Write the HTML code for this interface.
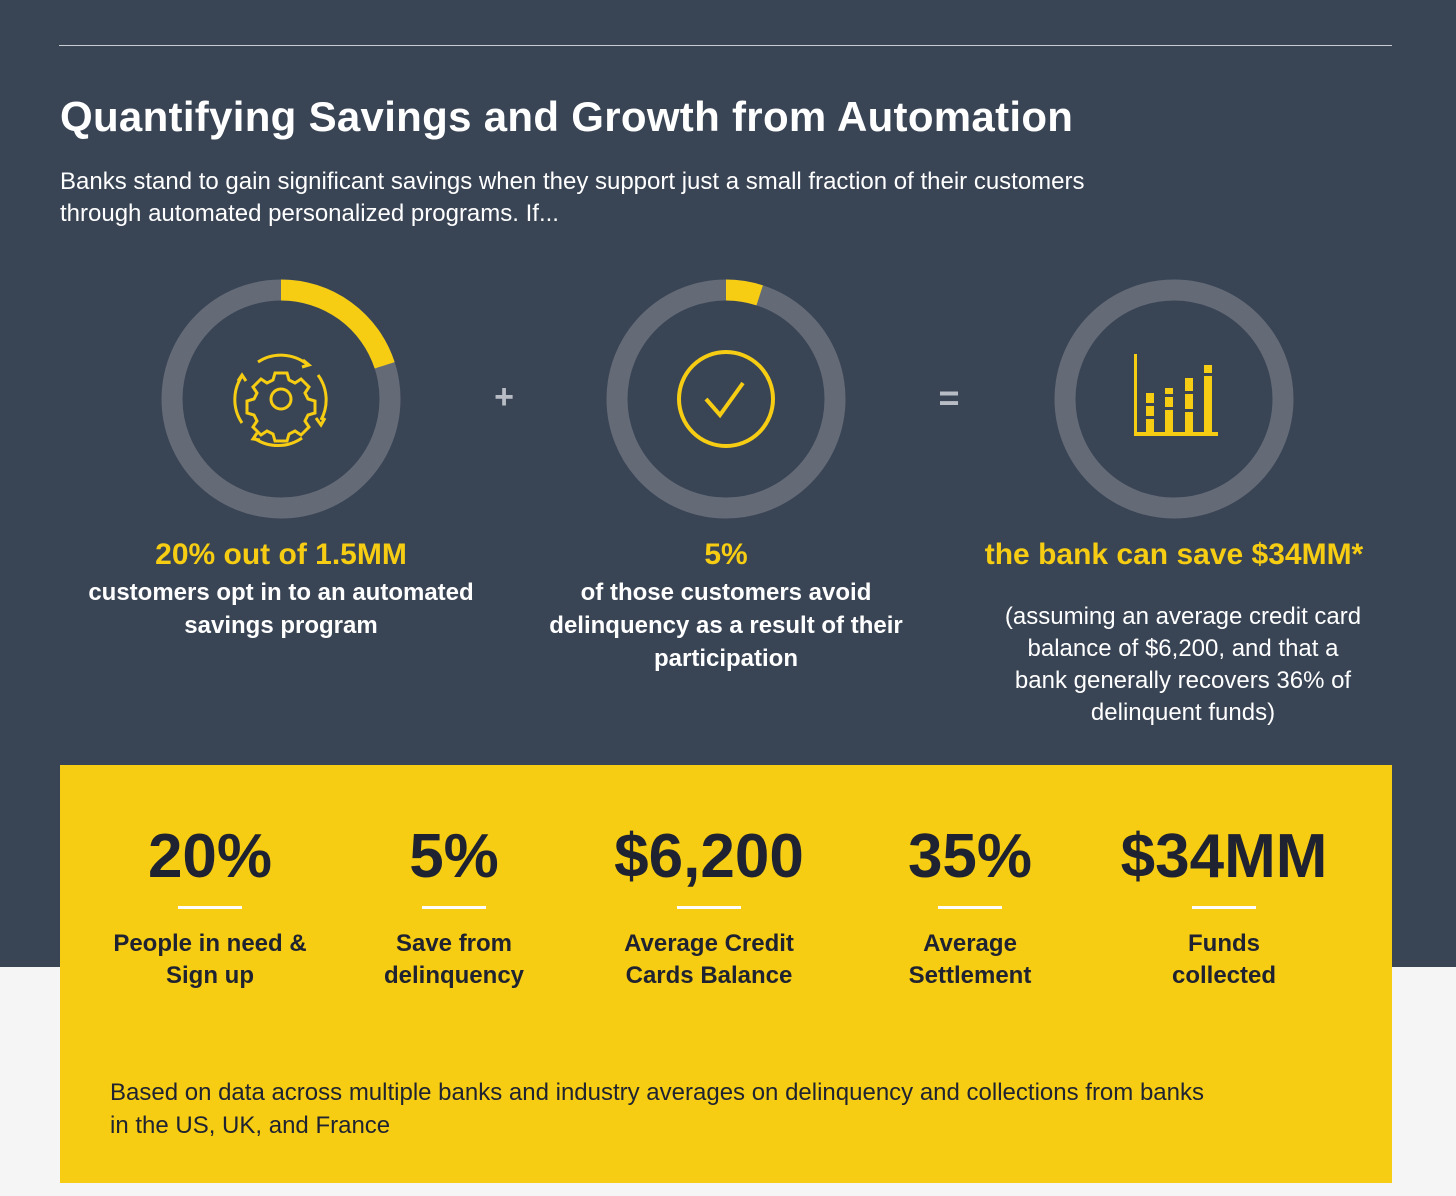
<!DOCTYPE html>
<html><head><meta charset="utf-8"><style>
body{margin:0;width:1456px;height:1196px;background:#f5f5f5;font-family:"Liberation Sans",sans-serif;position:relative;overflow:hidden}
.bg{position:absolute;left:0;top:0;width:1456px;height:967px;background:#394455}
.abs{position:absolute}
.c{text-align:center}
</style></head><body>
<div class="bg"></div>
<div class="abs" style="left:59px;top:45px;width:1333px;height:1px;background:#c8ccd3"></div>
<div class="abs" style="left:60px;top:93px;font-size:42px;font-weight:bold;color:#fff;letter-spacing:0.3px">Quantifying Savings and Growth from Automation</div>
<div class="abs" style="left:60px;top:166px;width:1110px;font-size:24px;line-height:32px;color:#fff">Banks stand to gain significant savings when they support just a small fraction of their customers through automated personalized programs. If...</div>

<svg class="abs" style="left:0;top:0" width="1456" height="767" id="rings">
<text x="504" y="408" fill="#b8bcc4" font-size="34" font-weight="bold" text-anchor="middle" font-family="Liberation Sans">+</text>
<text x="949" y="410" fill="#b8bcc4" font-size="36" font-weight="bold" text-anchor="middle" font-family="Liberation Sans">=</text>
<g fill="none" stroke="#f6cd13" stroke-width="3">
<circle cx="281" cy="399" r="10"/>
<path d="M275 373h12l2 7 6 3 6-4 8 8-4 6 3 6 7 2v12l-7 2-3 6 4 6-8 8-6-4-6 3-2 7h-12l-2-7-6-3-6 4-8-8 4-6-3-6-7-2v-12l7-2 3-6-4-6 8-8 6 4 6-3z"/>
<path d="M258 362a42 42 0 0 1 50 3"/><path d="M303 360l6 5-7 2"/>
<path d="M318 375a42 42 0 0 1 3 45"/><path d="M316 418l5 7 4-7"/>
<path d="M302 438a42 42 0 0 1-48 0"/><path d="M257 433l-4 6 7 1"/>
<path d="M242 423a42 42 0 0 1 0-47"/><path d="M238 381l4-6 4 6"/>
</g>
<g><circle cx="726" cy="399" r="47" fill="none" stroke="#f6cd13" stroke-width="4"/>
<path d="M706 399l14 16 23-32" fill="none" stroke="#f6cd13" stroke-width="4"/></g>
<g fill="#f6cd13">
<rect x="1134" y="354" width="3" height="80"/><rect x="1134" y="432" width="84" height="4"/>
<rect x="1146" y="393" width="8" height="10"/><rect x="1146" y="406" width="8" height="10"/><rect x="1146" y="419" width="8" height="13"/>
<rect x="1165" y="388" width="8" height="6"/><rect x="1165" y="397" width="8" height="10"/><rect x="1165" y="410" width="8" height="22"/>
<rect x="1185" y="378" width="8" height="13"/><rect x="1185" y="394" width="8" height="15"/><rect x="1185" y="412" width="8" height="20"/>
<rect x="1204" y="365" width="8" height="8"/><rect x="1204" y="376" width="8" height="56"/>
</g>
</svg>

<div class="abs c" style="left:60px;top:538px;width:442px;color:#f6cd13;font-size:30px;font-weight:bold">20% out of 1.5MM</div>
<div class="abs c" style="left:60px;top:576px;width:442px;color:#fff;font-size:24px;font-weight:bold;line-height:33px">customers opt in to an automated<br>savings program</div>
<div class="abs c" style="left:505px;top:538px;width:442px;color:#f6cd13;font-size:30px;font-weight:bold">5%</div>
<div class="abs c" style="left:505px;top:576px;width:442px;color:#fff;font-size:24px;font-weight:bold;line-height:33px">of those customers avoid<br>delinquency as a result of their<br>participation</div>
<div class="abs c" style="left:953px;top:538px;width:442px;color:#f6cd13;font-size:30px;font-weight:bold">the bank can save $34MM*</div>
<div class="abs c" style="left:973px;top:601px;width:420px;color:#fff;font-size:24px;line-height:32px">(assuming an average credit card<br>balance of $6,200, and that a<br>bank generally recovers 36% of<br>delinquent funds)</div>

<div class="abs" style="left:60px;top:765px;width:1332px;height:418px;background:#f6cd13"></div>
<div id="stats"></div>
<div class="abs" style="left:110px;top:1076px;width:1220px;font-size:24px;line-height:33px;color:#1f2230">Based on data across multiple banks and industry averages on delinquency and collections from banks<br>in the US, UK, and France</div>

<script>
const ringCenters=[281,726,1174];
const ringPercents=[20,5,0];
const statValues=["20%","5%","$6,200","35%","$34MM"];
const statLabels=[["People in need &","Sign up"],["Save from","delinquency"],["Average Credit","Cards Balance"],["Average","Settlement"],["Funds","collected"]];
const statCenters=[210,454,709,970,1224];

const svg=document.getElementById('rings');
const NS='http://www.w3.org/2000/svg';
const cy=399,r=109;
ringPercents.forEach((p,i)=>{
  const cx=ringCenters[i];
  const c=document.createElementNS(NS,'circle');
  
  
  c.setAttribute('cx',cx);c.setAttribute('cy',cy);c.setAttribute('r',r);
  c.setAttribute('fill','none');c.setAttribute('stroke','#646b77');c.setAttribute('stroke-width','21');
  svg.insertBefore(c,svg.firstChild);
  if(p>0){
    const a=p/100*2*Math.PI;
    const x2=cx+r*Math.sin(a),y2=cy-r*Math.cos(a);
    const path=document.createElementNS(NS,'path');
    
    
    path.setAttribute('d',`M${cx} ${cy-r} A${r} ${r} 0 ${p>50?1:0} 1 ${x2} ${y2}`);
    path.setAttribute('fill','none');path.setAttribute('stroke','#f6cd13');path.setAttribute('stroke-width','21');
    svg.insertBefore(path,svg.children[ringCenters.length]);
  }
});
const st=document.getElementById('stats');
statValues.forEach((v,i)=>{
  const cx=statCenters[i];
  const d=document.createElement('div');
  
  
  d.className='abs c';
  d.style.cssText=`left:${cx-160}px;top:821px;width:320px;font-size:62px;font-weight:bold;color:#1f2230;letter-spacing:0px`;
  d.textContent=v;st.appendChild(d);
  const l=document.createElement('div');
  
  
  l.className='abs';
  l.style.cssText=`left:${cx-32}px;top:906px;width:64px;height:3px;background:#fff`;
  st.appendChild(l);
  const t=document.createElement('div');
  
  
  t.className='abs c';
  t.style.cssText=`left:${cx-150}px;top:928px;width:300px;font-size:24px;font-weight:bold;line-height:32px;color:#1f2230`;
  t.innerHTML=statLabels[i].join('<br>');st.appendChild(t);
});
</script>
</body></html>
